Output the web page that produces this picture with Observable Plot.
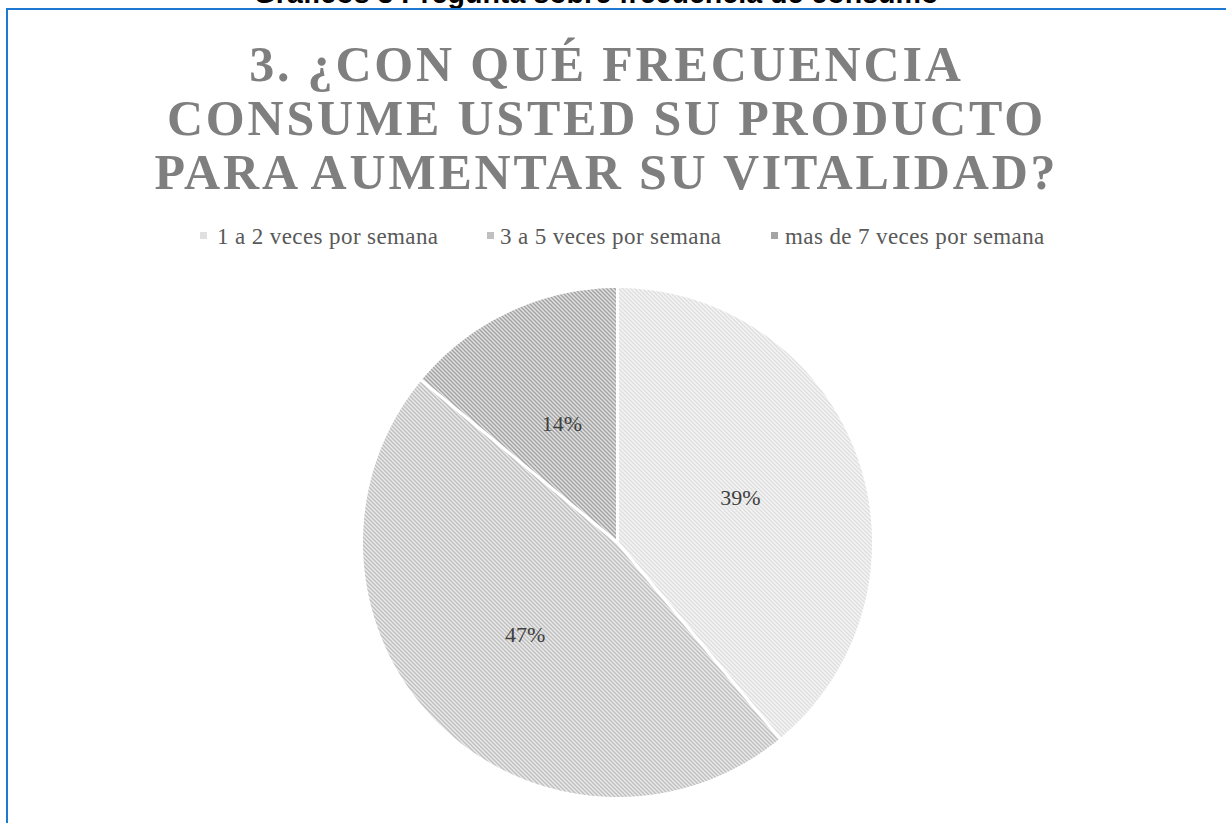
<!DOCTYPE html>
<html>
<head>
<meta charset="utf-8">
<script src="https://cdn.jsdelivr.net/npm/d3@7"></script>
<script src="https://cdn.jsdelivr.net/npm/@observablehq/plot@0.6"></script>
<style>
  html, body { margin: 0; padding: 0; background: #fff; }
  body { width: 1226px; height: 823px; overflow: hidden; position: relative; }
  #header { position: absolute; left: 0; width: 1192px; top: -20.7px; line-height: 28px;
            font-family: "Liberation Sans", Arial, sans-serif; font-weight: bold; font-size: 28.6px;
            color: #000; text-align: center; white-space: nowrap; }
  #frame { position: absolute; left: 6px; top: 8px; right: -20px; bottom: -20px;
           border-top: 2.5px solid #1f78d1; border-left: 2.5px solid #1f78d1; }
  #title { position: absolute; left: 0; width: 1210px; top: 37px; line-height: 54px;
           font-family: "Liberation Serif", "Times New Roman", serif; font-weight: bold; font-size: 50px;
           color: #7f7f7f; text-align: center; letter-spacing: 2.8px; white-space: nowrap; }
  #title div { text-indent: 2.8px; }
  .leg { position: absolute; top: 225px; line-height: 24px; font-family: "Liberation Serif", "Times New Roman", serif;
         font-size: 23px; color: #595959; white-space: nowrap; letter-spacing: 0.4px; }
  .sw { position: absolute; top: 232px; width: 7px; height: 7px; }
  #chart { position: absolute; left: 0; top: 270px; }
</style>
</head>
<body>
<div id="header"></div>
<div id="frame"></div>
<div id="title"></div>
<div id="legend"></div>
<div id="chart"></div>
<script>
// ---- data ----
const headerText = "Gráficos 3 Pregunta sobre frecuencia de consumo";
const titleLines = ["3. ¿CON QUÉ FRECUENCIA", "CONSUME USTED SU PRODUCTO", "PARA AUMENTAR SU VITALIDAD?"];
const categories = ["1 a 2 veces por semana", "3 a 5 veces por semana", "mas de 7 veces por semana"];
const values = [39, 47, 14];
const valueLabels = ["39%", "47%", "14%"];

// ---- styles (not data) ----
const hatchColors = ["#d2d2d2", "#a6a6a6", "#7e7e7e"];
const swatchColors = ["#e0e0e0", "#c0c0c0", "#a4a4a4"];
const legendSwatchX = [200, 487, 771];
const legendTextX = [217, 500, 785];

document.getElementById("header").textContent = headerText;
const t = document.getElementById("title");
titleLines.forEach(l => { const d = document.createElement("div"); d.textContent = l; t.appendChild(d); });

const leg = document.getElementById("legend");
categories.forEach((c, i) => {
  const s = document.createElement("div");
  s.className = "sw"; s.style.left = legendSwatchX[i] + "px"; s.style.background = swatchColors[i];
  leg.appendChild(s);
  const tx = document.createElement("div");
  tx.className = "leg"; tx.style.left = legendTextX[i] + "px"; tx.textContent = c;
  leg.appendChild(tx);
});

// ---- pie geometry from data ----
const W = 1226, H = 553, cx = 617, cy = 272, R = 256;
const arcs = d3.pie().sort(null).value(d => d)(values);
const slices = arcs.map((a, i) => {
  const pts = [{x: 0, y: 0}];
  const n = Math.max(4, Math.ceil((a.endAngle - a.startAngle) / (Math.PI / 360)));
  for (let k = 0; k <= n; k++) {
    const ang = a.startAngle + (a.endAngle - a.startAngle) * k / n;
    pts.push({x: R * Math.sin(ang), y: -R * Math.cos(ang)});
  }
  pts.push({x: 0, y: 0});
  return pts;
});
const labelData = arcs.map((a, i) => {
  const mid = (a.startAngle + a.endAngle) / 2, r = 0.51 * R;
  return {x: r * Math.sin(mid), y: -r * Math.cos(mid), label: valueLabels[i]};
});

const svg = Plot.plot({
  width: W, height: H, margin: 0,
  x: {domain: [-cx, W - cx], range: [0, W], axis: null},
  y: {domain: [-cy, H - cy], range: [0, H], axis: null},
  style: {background: "transparent", overflow: "visible"},
  marks: [
    ...slices.map((pts, i) => Plot.line(pts, {
      x: "x", y: "y", fill: `url(#hatch${i})`, stroke: "white", strokeWidth: 3, strokeLinejoin: "round"
    })),
    Plot.text(labelData, {
      x: "x", y: "y", text: "label", fontSize: 22, fill: "#404040",
      fontFamily: "Liberation Serif, Times New Roman, serif"
    })
  ]
});

const defs = d3.select(svg).insert("defs", ":first-child");
hatchColors.forEach((col, i) => {
  const p = defs.append("pattern").attr("id", "hatch" + i)
    .attr("patternUnits", "userSpaceOnUse").attr("width", 4).attr("height", 4);
  p.append("rect").attr("width", 4).attr("height", 4).attr("fill", "#fff");
  p.append("path").attr("d", "M-1,3 L1,5 M0,0 L4,4 M3,-1 L5,1")
    .attr("stroke", col).attr("stroke-width", 1.3);
});

document.getElementById("chart").appendChild(svg);
</script>
</body>
</html>
